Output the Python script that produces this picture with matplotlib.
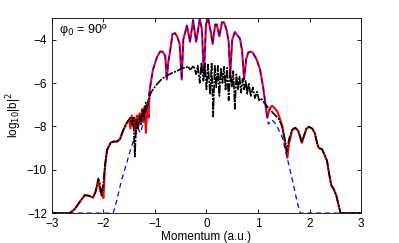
import numpy as np
import matplotlib
matplotlib.use("Agg")
import matplotlib.pyplot as plt

plt.rcParams['font.family'] = ['Liberation Sans', 'DejaVu Sans']

# ---- black dash-dot curve (smooth part) ----
black_x = [-3.0, -2.8, -2.65, -2.55, -2.45, -2.36, -2.28, -2.2, -2.15, -2.1, -2.07, -2.04,
           -2.0, -1.97, -1.93, -1.9, -1.86, -1.8, -1.74, -1.68, -1.62, -1.55, -1.48, -1.42,
           -1.35, -1.28, -1.22, -1.16, -1.1, -1.04, -0.96, -0.88, -0.8, -0.72, -0.64, -0.57,
           -0.5, -0.45, -0.4, -0.36, -0.32, -0.28, -0.24, -0.2, -0.16, -0.12, -0.08, -0.04,
           0.0, 0.05, 0.1, 0.15, 0.2, 0.3, 0.4, 0.5, 0.6, 0.7, 0.8, 0.9, 1.0, 1.1, 1.2, 1.3,
           1.4, 1.47, 1.52, 1.56, 1.6, 1.66, 1.72, 1.78, 1.82, 1.85, 1.89, 1.94, 1.99, 2.05,
           2.1, 2.15, 2.18, 2.24, 2.29, 2.34, 2.38, 2.42, 2.47, 2.52, 2.56, 2.6, 3.0]
black_y = [-12.0, -12.0, -12.0, -11.8, -11.45, -11.17, -11.2, -11.28, -11.0, -10.4, -10.6, -11.2,
           -10.6, -9.8, -9.1, -8.95, -8.75, -8.7, -8.7, -8.6, -8.2, -7.85, -7.65, -7.6,
           -7.55, -7.35, -7.1, -6.8, -6.55, -6.3, -6.05, -5.85, -5.7, -5.6, -5.5, -5.45,
           -5.35, -5.3, -5.3, -5.22, -5.38, -5.3, -5.15, -5.28, -5.25, -5.05, -5.2, -5.1,
           -5.15, -5.1, -5.2, -5.15, -5.2, -5.25, -5.3, -5.5, -5.65, -5.8, -5.95, -6.2, -6.5,
           -6.85, -7.15, -7.4, -7.65, -8.0, -8.6, -9.15, -8.6, -8.15, -8.06, -8.2, -8.5,
           -8.76, -8.45, -8.1, -8.02, -8.1, -8.3, -8.8, -9.0, -9.05, -9.3, -9.6, -10.2,
           -10.7, -10.9, -11.2, -11.6, -12.0, -12.0]

# ---- black dash-dot curve: values in the noisy / oscillating ranges ----
dd_left_x = [-1.48, -1.45, -1.42, -1.39, -1.36, -1.33, -1.3, -1.27, -1.24, -1.21, -1.18, -1.15]
dd_left_y = [-7.6, -7.9, -7.6, -9.4, -7.7, -8.1, -7.5, -7.9, -7.2, -7.6, -6.9, -7.1]
dd_mid_x = [-0.3, -0.25, -0.2, -0.17, -0.13, -0.1, -0.06, -0.03, 0.0, 0.03, 0.07, 0.1, 0.13,
            0.16, 0.19, 0.22, 0.25, 0.28, 0.31, 0.34, 0.37, 0.4, 0.43, 0.46, 0.49, 0.52, 0.55,
            0.58, 0.61, 0.64, 0.67, 0.7, 0.73, 0.76, 0.79, 0.82, 0.86, 0.9, 0.94, 0.98, 1.02,
            1.06, 1.1]
dd_mid_y = [-5.35, -5.2, -5.6, -5.2, -6.0, -5.1, -5.9, -5.1, -6.3, -5.15, -6.5, -5.1, -7.55,
            -5.2, -6.2, -5.2, -6.6, -5.3, -6.0, -5.25, -6.3, -5.3, -6.8, -5.4, -6.2, -5.45, -7.2,
            -5.6, -6.3, -5.7, -6.45, -5.8, -6.3, -5.9, -6.5, -6.0, -6.6, -6.2, -6.7, -6.4, -6.8,
            -6.7, -6.85]

# ---- red solid curve: own values where it departs from the black curve ----
red_left_x = [-2.1, -2.06, -2.03, -2.0, -1.97]
red_left_y = [-10.5, -11.0, -10.9, -11.3, -9.9]
red_mid_x = [-1.5, -1.475, -1.45, -1.425, -1.4, -1.375, -1.35, -1.325, -1.3, -1.275, -1.25,
             -1.225, -1.2, -1.175, -1.15, -1.125, -1.1, -1.04, -0.96, -0.9, -0.85, -0.8, -0.77,
             -0.74, -0.71, -0.66, -0.61, -0.57, -0.52, -0.48, -0.45, -0.38, -0.32, -0.26, -0.2,
             -0.13, -0.09, -0.05, -0.01, 0.03, 0.08, 0.12, 0.17, 0.2, 0.25, 0.3, 0.34, 0.39,
             0.43, 0.46, 0.5, 0.55, 0.6, 0.65, 0.69, 0.73, 0.77, 0.81, 0.85, 0.9, 0.97, 1.04,
             1.1, 1.15, 1.18, 1.22, 1.27, 1.32, 1.37, 1.42, 1.47, 1.52, 1.57, 1.6, 1.66]
red_mid_y = [-7.7, -8.1, -7.5, -8.0, -7.6, -8.3, -7.5, -8.0, -7.4, -7.9, -7.2,
             -7.8, -7.1, -8.3, -7.0, -7.6, -6.3, -5.4, -4.8, -4.55, -4.55, -4.75, -5.84,
             -5.0, -4.6, -3.75, -3.7, -3.85, -4.2, -5.84, -4.0, -3.35, -4.1, -3.1, -4.1,
             -3.05, -3.5, -5.7, -3.3, -3.0, -3.6, -4.2, -3.3, -3.3, -3.85, -3.2, -3.2, -3.55,
             -4.1, -5.6, -4.0, -3.65, -3.8, -3.95, -4.5, -5.84, -4.9, -4.6, -4.55, -4.6, -4.9, -5.38,
             -6.2, -7.1, -7.6, -7.2, -7.05, -7.15, -7.3, -7.6, -8.0, -8.7, -9.45, -8.8, -8.2]

# ---- blue dashed curve: own wings, shares the centre with the red curve ----
blue_left_x = [-3.0, -1.81, -1.74, -1.65, -1.55, -1.45, -1.38, -1.33, -1.28, -1.2, -1.15]
blue_left_y = [-12.0, -12.0, -11.4, -10.5, -9.7, -8.9, -8.4, -8.1, -8.3, -7.6, -7.0]
blue_right_x = [1.2, 1.27, 1.35, 1.47, 1.56, 1.68, 1.76, 1.82, 3.0]
blue_right_y = [-7.9, -7.7, -7.9, -8.5, -9.4, -10.6, -11.5, -12.0, -12.0]


def splice(base_x, base_y, seg_x, seg_y):
    bx = np.asarray(base_x); by = np.asarray(base_y)
    sx = np.asarray(seg_x); sy = np.asarray(seg_y)
    keep = (bx < sx.min()) | (bx > sx.max())
    x = np.concatenate([bx[keep], sx]); y = np.concatenate([by[keep], sy])
    o = np.argsort(x, kind="stable")
    return x[o], y[o]

dd_x, dd_y = splice(black_x, black_y, dd_left_x, dd_left_y)
dd_x, dd_y = splice(dd_x, dd_y, dd_mid_x, dd_mid_y)
red_x, red_y = splice(black_x, black_y, red_left_x, red_left_y)
red_x, red_y = splice(red_x, red_y, red_mid_x, red_mid_y)
rmx = np.asarray(red_mid_x); rmy = np.asarray(red_mid_y)
cm = (rmx > -1.1) & (rmx < 1.15)
blue_x = np.concatenate([blue_left_x, rmx[cm], blue_right_x])
blue_y = np.concatenate([blue_left_y, rmy[cm], blue_right_y])

fig = plt.figure(figsize=(3.99, 2.43), dpi=100)
ax = fig.add_axes([0.130, 0.123, 0.775, 0.803])
ax.plot(red_x, red_y, color='#ff0000', lw=1.5, zorder=2)
ax.plot(blue_x, blue_y, color='#0000ff', lw=0.9, ls=(0, (4, 3)), zorder=3)
ax.plot(dd_x, dd_y, color='black', lw=1.2, ls=(0, (5, 0.8, 1.2, 0.8)), zorder=5)

ax.set_xlim(-3, 3)
ax.set_ylim(-12, -3)
ax.set_xticks([-3, -2, -1, 0, 1, 2, 3])
ax.set_yticks([-12, -10, -8, -6, -4])
ax.tick_params(direction='in', top=True, right=True, labelsize=8.5, length=3, width=0.6)
for s in ax.spines.values():
    s.set_linewidth(0.6)
ax.set_xlabel('Momentum (a.u.)', fontsize=8.5, labelpad=1)
ax.set_ylabel('log$_{10}$|b|$^2$', fontsize=8.5, labelpad=2)
ax.text(-2.87, -3.55, 'φ$_0$ = 90º', fontsize=9, va='center', ha='left')

fig.savefig('out.png', dpi=100)
